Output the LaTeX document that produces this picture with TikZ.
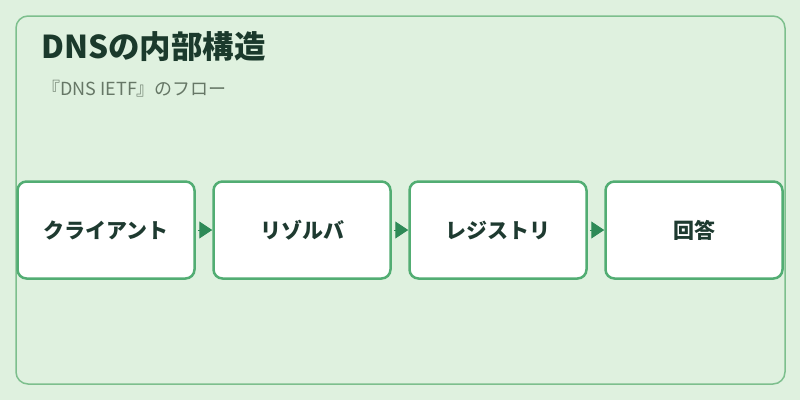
\documentclass[tikz,border=0pt]{standalone}
\usepackage{fontspec}
\setmainfont{Noto Sans CJK JP}
\usetikzlibrary{arrows.meta}
\definecolor{bgc}{HTML}{DFF1DF}
\definecolor{framec}{HTML}{7DBF8D}
\definecolor{boxc}{HTML}{52AD73}
\definecolor{arrc}{HTML}{2E8A57}
\definecolor{titlec}{HTML}{1B3A2C}
\definecolor{subc}{HTML}{667766}
\definecolor{textc}{HTML}{1E3A30}
\tikzset{
  stagebox/.style={draw=boxc, line width=2.5pt, fill=white, rounded corners=9pt,
    minimum width=177pt, minimum height=97pt, inner sep=0pt,
    font=\fontsize{21}{24}\selectfont\bfseries, text=textc},
  flowarrow/.style={draw=arrc, line width=1pt, shorten <=2pt,
    -{Triangle[length=13pt,width=17pt]}},
}
\begin{document}
\begin{tikzpicture}[x=1pt,y=-1pt]
\useasboundingbox (0,0) rectangle (800,400);
\fill[bgc] (0,0) rectangle (800,400);
\draw[framec, line width=1.5pt, rounded corners=12pt] (16,16) rectangle (785,384);
\node[anchor=west, text=titlec, font=\fontsize{31.5}{34}\selectfont\bfseries, inner sep=0pt] (title) at (41,47) {DNSの内部構造};
\node[anchor=west, text=subc, font=\fontsize{18}{20}\selectfont, inner sep=0pt] (sub) at (42,89) {『DNS IETF』のフロー};
\node[stagebox] (b1) at (106,230) {クライアント};
\node[stagebox] (b2) at (302,230) {リゾルバ};
\node[stagebox] (b3) at (498,230) {レジストリ};
\node[stagebox] (b4) at (694,230) {回答};
\draw[flowarrow] (b1.east) -- (b2.west);
\draw[flowarrow] (b2.east) -- (b3.west);
\draw[flowarrow] (b3.east) -- (b4.west);
\end{tikzpicture}
\end{document}
